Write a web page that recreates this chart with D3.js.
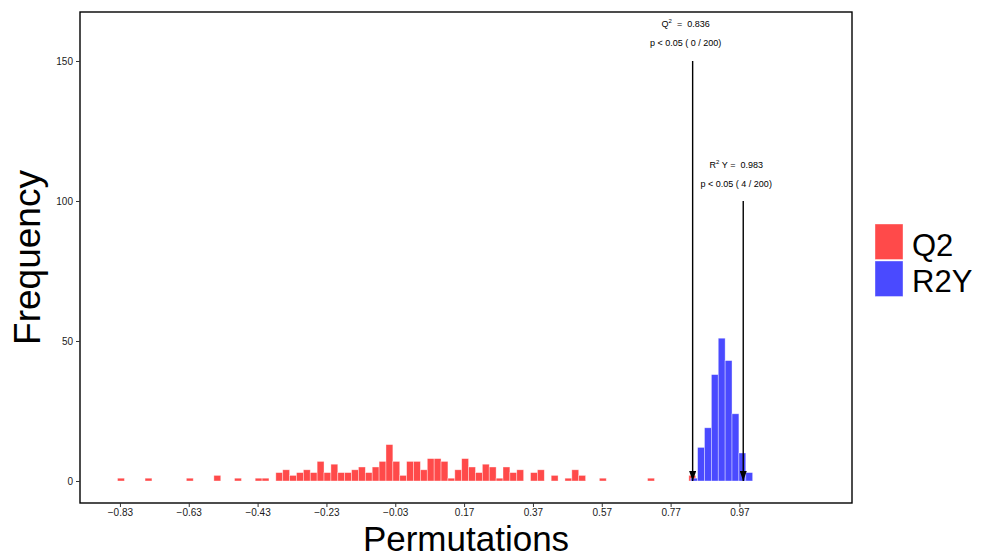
<!DOCTYPE html>
<html>
<head>
<meta charset="utf-8">
<script src="https://cdn.jsdelivr.net/npm/d3@7"></script>
<style>
  body { margin: 0; background: #fff; }
  svg { display: block; font-family: "Liberation Sans", Arial, Helvetica, sans-serif; }
</style>
</head>
<body>
<svg id="chart" width="987" height="558"></svg>
<script>
// ---- data ----
const binWidth = 0.02;
const q2Start = -0.837;
const q2Counts = [1,0,0,0,1,0,0,0,0,0,1,0,0,0,2,0,0,1,0,0,1,1,0,
  3,4,2,3,4,3,7,3,6,3,3,4,5,3,5,7,13,7,2,7,7,4,8,8,7,1,4,
  8,5,3,6,5,1,5,3,4,0,3,4,0,2,0,1,4,2,0,0,1,0,0,0,0,0,0,1,0,0,0,0,0,2];
const r2yStart = 0.8284;
const r2yCounts = [1,12,19,38,51,43,24,10,3];
const xTicks = [-0.83,-0.63,-0.43,-0.23,-0.03,0.17,0.37,0.57,0.77,0.97];
const yTicks = [0,50,100,150];
const seriesNames = ["Q2","R2Y"];
const seriesColors = ["#FF4A4A","#4A4AFF"];
const q2Value = 0.834, q2Label = "0.836", q2P = "p < 0.05 ( 0 / 200)", q2ArrowTop = 150;
const r2yValue = 0.981, r2yLabel = "0.983", r2yP = "p < 0.05 ( 4 / 200)", r2yArrowTop = 100;

// ---- layout ----
const svg = d3.select("#chart");
const L = 80, R = 852, T = 12, B = 503;
const x = d3.scaleLinear().domain([-0.946, 1.297]).range([L, R]);
const y = d3.scaleLinear().domain([-7.86, 167.5]).range([B, T]);

function bins(start, counts) {
  return counts.map((c, k) => ({x0: start + k * binWidth, x1: start + (k + 1) * binWidth, c}))
               .filter(d => d.c > 0);
}

const gBars = svg.append("g");
[[bins(q2Start, q2Counts), seriesColors[0]], [bins(r2yStart, r2yCounts), seriesColors[1]]].forEach(([data, col]) => {
  gBars.append("g").selectAll("rect").data(data).join("rect")
    .attr("x", d => x(d.x0))
    .attr("width", d => x(d.x1) - x(d.x0))
    .attr("y", d => y(d.c))
    .attr("height", d => y(0) - y(d.c))
    .attr("fill", col)
    .attr("stroke", "#ffffff")
    .attr("stroke-opacity", 0.55)
    .attr("stroke-width", 0.7);
});

// arrows
const defs = svg.append("defs");
defs.append("marker").attr("id", "arr").attr("viewBox", "0 0 10 10")
  .attr("refX", 10).attr("refY", 5).attr("markerWidth", 10).attr("markerHeight", 7)
  .attr("markerUnits", "userSpaceOnUse").attr("orient", "auto")
  .attr("preserveAspectRatio", "none")
  .append("path").attr("d", "M0,0 L10,5 L0,10 Z").attr("fill", "#000");

function arrow(v, top) {
  svg.append("line").attr("x1", x(v)).attr("x2", x(v))
    .attr("y1", y(top)).attr("y2", y(0))
    .attr("stroke", "#000").attr("stroke-width", 1.4)
    .attr("marker-end", "url(#arr)");
}
arrow(q2Value, q2ArrowTop);
arrow(r2yValue, r2yArrowTop);

function annot(v, yb, letter, suffix, label, ptxt) {
  const cx = x(v) - 7;
  const t = svg.append("text").attr("x", cx).attr("y", yb).attr("text-anchor", "middle")
    .attr("font-size", 9).attr("fill", "#000");
  t.append("tspan").text(letter);
  t.append("tspan").attr("font-size", 6).attr("dy", -3.5).text("2");
  t.append("tspan").attr("dy", 3.5).text(suffix + "\u00A0=\u00A0\u00A0" + label);
  svg.append("text").attr("x", cx).attr("y", yb + 19).attr("text-anchor", "middle")
    .attr("font-size", 9).attr("fill", "#000").text(ptxt);
}
annot(q2Value, 26.5, "Q", "\u00A0", q2Label, q2P);
annot(r2yValue, 167.5, "R", "\u00A0Y", r2yLabel, r2yP);

// panel border
svg.append("rect").attr("x", L).attr("y", T).attr("width", R - L).attr("height", B - T)
  .attr("fill", "none").attr("stroke", "#000").attr("stroke-width", 1.4);

// axes
const xAxis = svg.append("g").attr("transform", `translate(0,${B})`)
  .call(d3.axisBottom(x).tickValues(xTicks).tickSize(4).tickPadding(2).tickFormat(d3.format(".2f")));
const yAxis = svg.append("g").attr("transform", `translate(${L},0)`)
  .call(d3.axisLeft(y).tickValues(yTicks).tickSize(4).tickPadding(3));
[xAxis, yAxis].forEach(a => {
  a.select(".domain").remove();
  a.selectAll(".tick line").attr("stroke", "#333").attr("stroke-width", 1);
  a.selectAll(".tick text").attr("fill", "#1a1a1a").attr("font-size", 10)
    .attr("font-family", "'Liberation Sans', Arial, sans-serif");
});

// axis titles
svg.append("text").attr("x", (L + R) / 2).attr("y", 550.5).attr("text-anchor", "middle")
  .attr("font-size", 35).attr("fill", "#000").text("Permutations");
svg.append("text").attr("transform", `translate(40,${(T + B) / 2}) rotate(-90)`)
  .attr("text-anchor", "middle").attr("font-size", 37).attr("fill", "#000").text("Frequency");

// legend
const leg = svg.append("g");
seriesNames.forEach((n, i) => {
  leg.append("rect").attr("x", 875).attr("y", 224 + i * 37).attr("width", 28).attr("height", 35.5)
    .attr("fill", seriesColors[i]).attr("stroke", "#fff").attr("stroke-opacity", 0.55).attr("stroke-width", 0.7);
  leg.append("text").attr("x", 912).attr("y", 255.5 + i * 36.5)
    .attr("font-size", 31).attr("fill", "#000").text(n);
});
</script>
</body>
</html>
